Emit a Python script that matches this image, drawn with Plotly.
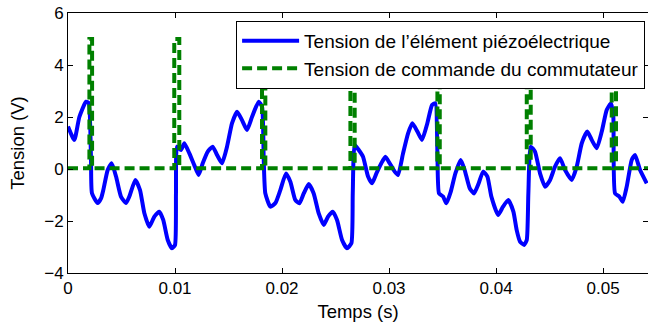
import plotly.graph_objects as go

# tension de l'élément piézoélectrique
t_piezo = [0.0000, 0.00059, 0.00106, 0.00168, 0.00193, 0.00215, 0.00224, 0.00277, 0.0031, 0.0033,
           0.00371, 0.00408, 0.00449, 0.00495, 0.00542, 0.00573, 0.00629, 0.00673, 0.00713, 0.0076,
           0.00807, 0.00853, 0.0089, 0.00932, 0.00972, 0.0100, 0.01009, 0.01019, 0.01056, 0.01087,
           0.01134, 0.0118, 0.01221, 0.01259, 0.01306, 0.01352, 0.01393, 0.01439, 0.01486, 0.01533,
           0.0158, 0.01626, 0.01673, 0.0172, 0.01782, 0.01813, 0.01829, 0.01844, 0.01891, 0.01938,
           0.01984, 0.02037, 0.02078, 0.02124, 0.02162, 0.02203, 0.0225, 0.02296, 0.02343, 0.0239,
           0.0243, 0.02474, 0.02514, 0.02561, 0.02607, 0.02648, 0.02661, 0.02679, 0.02717, 0.02757,
           0.02804, 0.02841, 0.02882, 0.02928, 0.02966, 0.03006, 0.03053, 0.03084, 0.03131, 0.03178,
           0.03218, 0.03265, 0.03308, 0.03358, 0.03402, 0.03433, 0.03452, 0.03467, 0.03505, 0.03536,
           0.03577, 0.0362, 0.0367, 0.03707, 0.03754, 0.03794, 0.03838, 0.03879, 0.03919, 0.03956,
           0.04019, 0.04065, 0.04115, 0.04162, 0.04193, 0.04224, 0.04262, 0.04287, 0.04302, 0.04324,
           0.04364, 0.04411, 0.04458, 0.04505, 0.04551, 0.04598, 0.04645, 0.04707, 0.04754, 0.04801,
           0.04853, 0.04894, 0.04941, 0.04988, 0.05034, 0.05075, 0.05096, 0.05112, 0.05152, 0.05184,
           0.05221, 0.05268, 0.05299, 0.05346, 0.05408]
v_piezo = [1.63, 1.12, 2.0, 2.59, 2.54, 0.35, -0.93, -1.31, -1.12, -0.81,
           -0.04, 0.22, -0.29, -1.06, -1.31, -1.06, -0.42, -0.81, -1.69, -2.22,
           -1.83, -1.64, -1.96, -2.73, -3.05, -2.92, -0.93, 0.86, 0.73, 0.99,
           0.6, 0.15, -0.23, 0.22, 0.67, 0.86, 0.54, 0.22, 0.86, 1.76,
           2.2, 1.88, 1.5, 2.01, 2.59, 2.4, 0.35, -0.94, -1.45, -1.31,
           -0.81, -0.17, -0.49, -1.19, -1.32, -0.94, -0.58, -0.94, -1.71, -2.15,
           -1.83, -1.64, -1.96, -2.73, -3.05, -2.86, -0.94, 0.92, 0.73, 0.47,
           -0.29, -0.55, -0.17, 0.22, 0.47, 0.22, -0.1, -0.23, 0.6, 1.37,
           1.76, 1.44, 1.12, 1.76, 2.46, 2.53, 0.6, -0.94, -1.06, -1.32,
           -0.87, -0.17, 0.35, -0.04, -0.74, -0.94, -0.55, -0.1, -0.29, -1.06,
           -1.77, -1.45, -1.19, -1.64, -2.35, -2.79, -2.92, -2.73, -0.94, 0.86,
           0.67, -0.17, -0.68, -0.42, 0.09, 0.41, -0.04, -0.42, 0.09, 0.99,
           1.44, 1.12, 0.8, 1.44, 2.27, 2.53, 2.01, -0.94, -1.06, -1.26,
           -0.68, 0.35, 0.54, -0.04, -0.55]

# tension de commande du commutateur : impulsions de 5 V
t_cmd = [0.0, 0.0020, 0.0020, 0.00225, 0.00225,
         0.00993, 0.00993, 0.0104, 0.0104,
         0.01813, 0.01813, 0.01844, 0.01844,
         0.02639, 0.02639, 0.02679, 0.02679,
         0.03452, 0.03452, 0.03474, 0.03474,
         0.04287, 0.04287, 0.04324, 0.04324,
         0.05081, 0.05081, 0.05121, 0.05121, 0.0545]
v_cmd = [0.03, 0.03, 5, 5, 0.03,
         0.03, 5, 5, 0.03,
         0.03, 5, 5, 0.03,
         0.03, 5, 5, 0.03,
         0.03, 5, 5, 0.03,
         0.03, 5, 5, 0.03,
         0.03, 5, 5, 0.03, 0.03]

x_ticks = [0, 0.01, 0.02, 0.03, 0.04, 0.05]
x_labels = ["0", "0.01", "0.02", "0.03", "0.04", "0.05"]
y_ticks = [-4, -2, 0, 2, 4, 6]

fig = go.Figure()
fig.add_trace(go.Scatter(x=t_piezo, y=v_piezo, mode="lines",
                         name="Tension de l\u2019élément piézoélectrique",
                         line=dict(color="#0000ff", width=4, shape="spline", smoothing=0.5)))
fig.add_trace(go.Scatter(x=t_cmd, y=v_cmd, mode="lines",
                         name="Tension de commande du commutateur",
                         line=dict(color="#008000", width=4, dash="10px,5px")))

axis_style = dict(showline=True, linecolor="black", linewidth=1, mirror="ticks",
                  ticks="inside", ticklen=5, tickcolor="black", showgrid=False,
                  zeroline=False, automargin=False, tickfont=dict(size=17, color="black"))

fig.update_layout(
    width=648, height=326,
    margin=dict(l=68, r=0, t=13, b=53),
    paper_bgcolor="white", plot_bgcolor="white",
    font=dict(family="Liberation Sans, Arial, sans-serif", size=17, color="black"),
    showlegend=True,
    legend=dict(x=0.995, y=0.97, xanchor="right", yanchor="top",
                bgcolor="white", bordercolor="black", borderwidth=1,
                font=dict(size=19), tracegroupgap=0, itemwidth=57),
)
fig.update_xaxes(range=[0, 0.0542], tickvals=x_ticks, ticktext=x_labels,
                 title=dict(text="Temps (s)", font=dict(size=18.5), standoff=7), **axis_style)
fig.update_yaxes(range=[-4, 6], tickvals=y_ticks,
                 title=dict(text="Tension (V)", font=dict(size=18.5), standoff=14), **axis_style)

# pas de marge autour de la figure dans la page
fig.write_html("out.html", config={"displayModeBar": False},
               post_script="document.body.style.margin='0';")
